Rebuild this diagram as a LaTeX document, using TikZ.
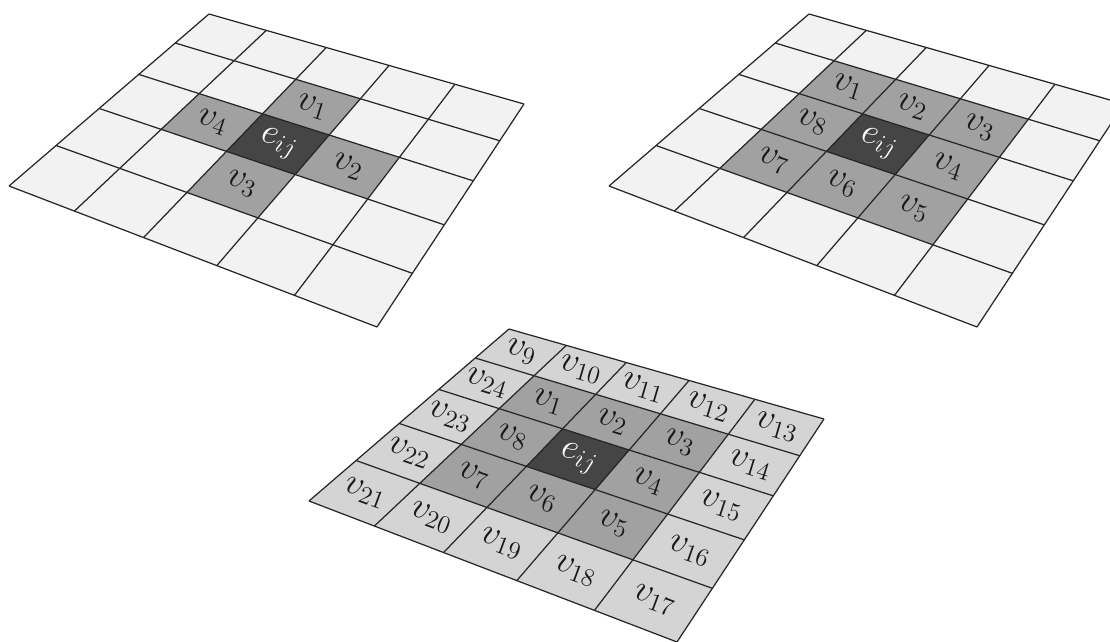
\documentclass[tikz,border=0pt]{standalone}
\usetikzlibrary{calc}
\begin{document}
\begin{tikzpicture}[x=0.02cm, y=0.02cm,
  declare function={
    hw(\p,\q) = 1 - 0.10988*\p - 0.18791*\q;
    hx(\p,\q) = (257.42*\p - 201.69*\q + 209)/hw(\p,\q);
    hy(\p,\q) = (78.57*\p + 137.05*\q + 14)/hw(\p,\q);
  },
  grid line/.style={line width=0.7pt, draw=black!85},
  plate/.style={fill=black!5},
  outer/.style={fill=black!17},
  near/.style={fill=black!37},
  centre/.style={fill=black!73},
  lbl/.style={midway, sloped, inner sep=0pt, text=black!90,
    font=\fontsize{19.5}{22}\selectfont},
  lblw/.style={lbl, text=white}]

\clip (0,0) rectangle (1110,-642);

% corner points of the three grids
\foreach \g/\dx/\dy in {1/0/0, 2/600/0, 3/300/315}
  \foreach \s in {0,...,5}
    \foreach \t in {0,...,5}
      \coordinate (g\g-\s-\t) at ({\dx+hx(\s/5,\t/5)}, {-\dy-hy(\s/5,\t/5)});

\fill[plate] (g1-0-0) -- (g1-5-0) -- (g1-5-5) -- (g1-0-5) -- cycle;
\fill[plate] (g2-0-0) -- (g2-5-0) -- (g2-5-5) -- (g2-0-5) -- cycle;
\fill[outer] (g3-0-0) -- (g3-5-0) -- (g3-5-5) -- (g3-0-5) -- cycle;

% 4-neighbourhood
\foreach \s/\t/\k [evaluate=\s as \sn using int(\s+1), evaluate=\t as \tn using int(\t+1)]
    in {2/1/1, 3/2/2, 2/3/3, 1/2/4} {
  \fill[near] (g1-\s-\t) -- (g1-\sn-\t) -- (g1-\sn-\tn) -- (g1-\s-\tn) -- cycle;
  \path ($(g1-\s-\t)!.5!(g1-\s-\tn)$) -- ($(g1-\sn-\t)!.5!(g1-\sn-\tn)$)
    node[lbl] (g1-v\k) {$v_{\k}$};
}

% 8-neighbourhood
\foreach \g in {2,3} {
  \foreach \s/\t/\k [evaluate=\s as \sn using int(\s+1), evaluate=\t as \tn using int(\t+1)]
      in {1/1/1, 2/1/2, 3/1/3, 3/2/4, 3/3/5, 2/3/6, 1/3/7, 1/2/8} {
    \fill[near] (g\g-\s-\t) -- (g\g-\sn-\t) -- (g\g-\sn-\tn) -- (g\g-\s-\tn) -- cycle;
    \path ($(g\g-\s-\t)!.5!(g\g-\s-\tn)$) -- ($(g\g-\sn-\t)!.5!(g\g-\sn-\tn)$)
      node[lbl] (g\g-v\k) {$v_{\k}$};
  }
}

% 24-neighbourhood, outer ring
\foreach \s/\t/\k [evaluate=\s as \sn using int(\s+1), evaluate=\t as \tn using int(\t+1)]
    in {0/0/9, 1/0/10, 2/0/11, 3/0/12, 4/0/13, 4/1/14, 4/2/15, 4/3/16,
        4/4/17, 3/4/18, 2/4/19, 1/4/20, 0/4/21, 0/3/22, 0/2/23, 0/1/24} {
  \path ($(g3-\s-\t)!.5!(g3-\s-\tn)$) -- ($(g3-\sn-\t)!.5!(g3-\sn-\tn)$)
    node[lbl] (g3-v\k) {$v_{\k}$};
}

% centre cell
\foreach \g in {1,2,3} {
  \fill[centre] (g\g-2-2) -- (g\g-3-2) -- (g\g-3-3) -- (g\g-2-3) -- cycle;
  \path ($(g\g-2-2)!.5!(g\g-2-3)$) -- ($(g\g-3-2)!.5!(g\g-3-3)$)
    node[lblw] (g\g-e) {$e_{ij}$};
}

% grid lines
\foreach \g in {1,2,3}
  \foreach \i in {0,...,5} {
    \draw[grid line] (g\g-\i-0) -- (g\g-\i-5);
    \draw[grid line] (g\g-0-\i) -- (g\g-5-\i);
  }

\end{tikzpicture}
\end{document}
